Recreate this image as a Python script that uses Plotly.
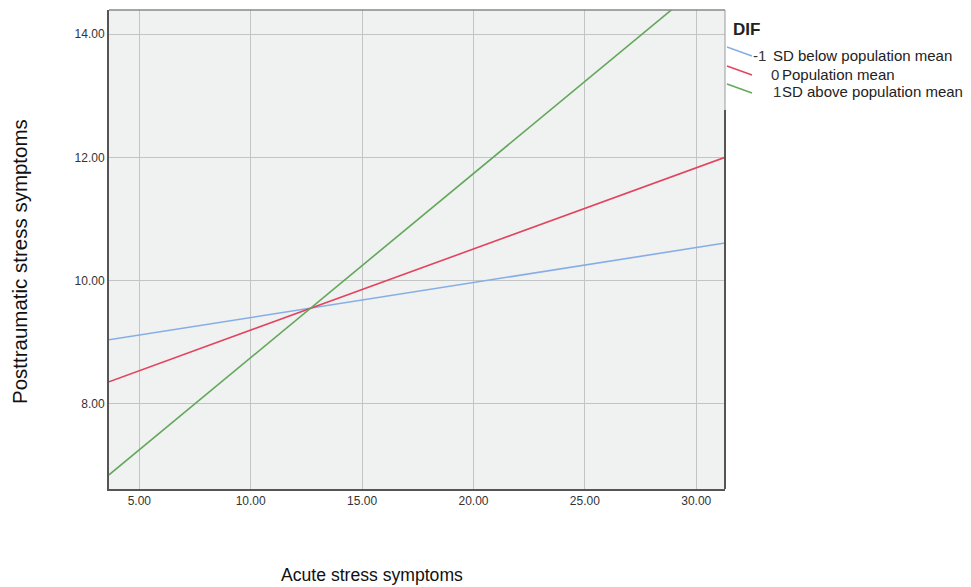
import plotly.graph_objects as go

x_vals = [3.64, 31.29]
below_mean = [9.04, 10.61]
pop_mean = [8.36, 12.00]
above_mean = [6.85, 15.11]
legend_title = "DIF"
value_labels = ["-1", "0", "1"]
series_names = ["SD below population mean", "Population mean", "SD above population mean"]
colors = ["#86aee6", "#e2445f", "#62a85a"]

W, H = 963, 579
L, R, T, B = 101, 717, 2, 481  # plot area in figure px
OFF = 8  # page body offset


def px(xp):
    return (xp - OFF - L) / (R - L)


def py(yp):
    return (B - (yp - OFF)) / (B - T)


fig = go.Figure()
for ys, name, c in zip([below_mean, pop_mean, above_mean], series_names, colors):
    fig.add_trace(go.Scatter(x=x_vals, y=ys, mode="lines", name=name,
                             line=dict(color=c, width=1.6), showlegend=False))

fig.update_layout(
    width=W, height=H,
    margin=dict(l=L, r=W - R, t=T, b=H - B),
    paper_bgcolor="white", plot_bgcolor="#f0f1f1",
    font=dict(family="Liberation Sans, Arial", color="#222"),
    showlegend=False,
    xaxis=dict(range=[3.64, 31.29], tickvals=[5, 10, 15, 20, 25, 30],
               tickformat=".2f", showgrid=True, gridcolor="#c4c4c4", gridwidth=1,
               zeroline=False, showline=True, linecolor="#555", linewidth=2,
               mirror=False, ticks="", tickfont=dict(size=12, color="#333")),
    yaxis=dict(range=[6.62, 14.39], tickvals=[8, 10, 12, 14],
               tickformat=".2f", showgrid=True, gridcolor="#c4c4c4", gridwidth=1,
               zeroline=False, showline=True, linecolor="#555", linewidth=2,
               mirror=False, ticks="", tickfont=dict(size=12, color="#333")),
)
# top and right borders
fig.add_shape(type="line", xref="paper", yref="paper", x0=0, x1=1, y0=1, y1=1,
              line=dict(color="#888", width=1.5))
fig.add_shape(type="line", xref="paper", yref="paper", x0=1, x1=1, y0=0, y1=py(110),
              line=dict(color="#555", width=2))
fig.add_shape(type="line", xref="paper", yref="paper", x0=1, x1=1, y0=py(110), y1=1,
              line=dict(color="#999", width=1))

# legend (SPSS style)
fig.add_annotation(text="<b>%s</b>" % legend_title, xref="paper", yref="paper",
                   x=px(731), y=py(29), xanchor="left", yanchor="middle",
                   showarrow=False, font=dict(size=17, color="#222"))
row_y = [55, 74, 92]
val_x = [751, 769, 771]
name_x = [771, 780, 780]
for i, (v, n, c) in enumerate(zip(value_labels, series_names, colors)):
    yc = row_y[i]
    fig.add_shape(type="line", xref="paper", yref="paper",
                  x0=px(727), y0=py(yc - 8), x1=px(752), y1=py(yc + 1),
                  line=dict(color=c, width=1.4))
    fig.add_annotation(text=v, xref="paper", yref="paper", x=px(val_x[i]), y=py(yc),
                       xanchor="left", yanchor="middle", showarrow=False,
                       font=dict(size=15, color="#333"))
    fig.add_annotation(text=n, xref="paper", yref="paper", x=px(name_x[i]), y=py(yc),
                       xanchor="left", yanchor="middle", showarrow=False,
                       font=dict(size=15, color="#222"))

# axis titles
fig.add_annotation(text="Acute stress symptoms", xref="paper", yref="paper",
                   x=px(372), y=py(575), xanchor="center", yanchor="middle",
                   showarrow=False, font=dict(size=17.6, color="#111"))
fig.add_annotation(text="Posttraumatic stress symptoms", xref="paper", yref="paper",
                   x=px(19), y=py(262), xanchor="center", yanchor="middle",
                   textangle=-90, showarrow=False, font=dict(size=20.5, color="#111"))

fig.write_html("out.html",
               post_script="document.documentElement.style.overflow='hidden';")
